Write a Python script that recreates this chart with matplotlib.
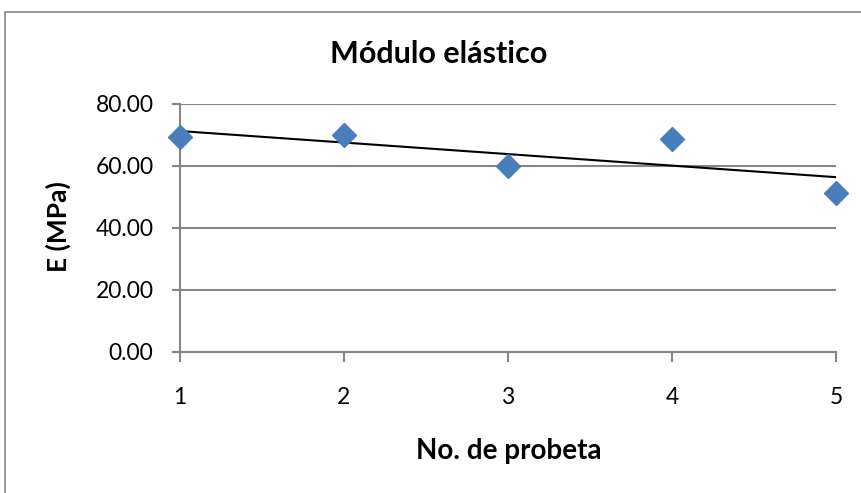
import numpy as np
import matplotlib.pyplot as plt
from matplotlib.patches import Rectangle

plt.rcParams['font.family'] = ['Lato', 'DejaVu Sans']

probeta = [1, 2, 3, 4, 5]
modulo_e = [69.3, 70.0, 59.9, 68.6, 51.4]
y_ticks = [0, 20, 40, 60, 80]

W, H = 862, 493
fig = plt.figure(figsize=(W / 100, H / 100), dpi=100)

gris = '#868686'

# marco exterior del gráfico
fig.patches.append(Rectangle((5 / W, -0.1), 1.2, 1 - 12 / H + 0.1,
                             transform=fig.transFigure, fill=False,
                             edgecolor=gris, linewidth=1.2))

ax = fig.add_axes([180 / W, 1 - 352 / H, (836 - 180) / W, (352 - 104) / H])
ax.set_xlim(1, 5)
ax.set_ylim(0, 80)
ax.set_xticks(probeta)
ax.set_yticks(y_ticks)
ax.set_yticklabels([f'{v:.2f}' for v in y_ticks])
ax.yaxis.grid(True, color=gris, linewidth=1.5)
ax.set_axisbelow(True)

for side in ('top', 'right'):
    ax.spines[side].set_visible(False)
for side in ('left', 'bottom'):
    ax.spines[side].set_color(gris)
    ax.spines[side].set_linewidth(1.5)

ax.tick_params(axis='y', direction='out', length=6, width=1.5, color=gris,
               pad=13, labelsize=16.5)
ax.tick_params(axis='x', direction='out', length=7, width=1.5, color=gris,
               pad=18, labelsize=16.5)

# línea de tendencia lineal
m, b = np.polyfit(probeta, modulo_e, 1)
xs = np.array([1, 5])
ax.plot(xs, m * xs + b, color='black', linewidth=1.5, zorder=3)

ax.plot(probeta, modulo_e, linestyle='none', marker='D', markersize=12,
        color='#4A7EBB', markeredgecolor='#4A7EBB', clip_on=False, zorder=4)

fig.text(439 / W, 1 - 54 / H, 'Módulo elástico', ha='center', va='center',
         fontsize=22, fontweight='bold')
fig.text(58 / W, 1 - 227 / H, 'E (MPa)', ha='center', va='center',
         rotation=90, fontsize=19, fontweight='bold')
fig.text(509 / W, 1 - 451 / H, 'No. de probeta', ha='center', va='center',
         fontsize=20, fontweight='bold')

fig.savefig('out.png', dpi=100)
